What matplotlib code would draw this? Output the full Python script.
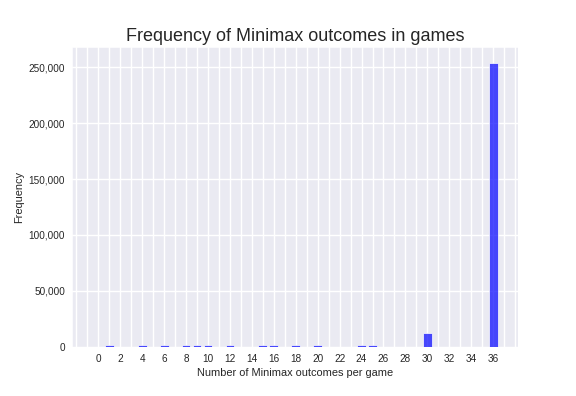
import matplotlib
matplotlib.use("Agg")
import matplotlib.pyplot as plt
import seaborn as sns
from matplotlib.ticker import FuncFormatter, MultipleLocator

# outcomes per game -> number of games
outcomes = [1, 4, 6, 8, 9, 10, 12, 15, 16, 18, 20, 24, 25, 30, 36]
counts = [1500, 1500, 1500, 1500, 1500, 1500, 1500, 1500, 1500, 1500, 1500, 1500, 1500, 12500, 253500]
xticks = list(range(0, 37, 2))

sns.set_style("darkgrid")
plt.rcParams['font.family'] = ['Liberation Sans', 'DejaVu Sans']

fig = plt.figure(figsize=(8, 5.5), dpi=72)
ax = fig.add_axes([0.125, 0.124, 0.775, 0.757])
ax.bar(outcomes, counts, width=0.8, color='blue', alpha=0.7)

ax.set_xticks(xticks)
ax.xaxis.set_minor_locator(MultipleLocator(1))
ax.grid(True, which='both', axis='x', color='white', linewidth=1.4)
ax.grid(True, which='major', axis='y', color='white', linewidth=1.4)
ax.set_xlim(-2.4, 38.3)
ax.set_ylim(0, 267900)
ax.yaxis.set_major_formatter(FuncFormatter(lambda v, p: f"{int(v):,}"))
ax.tick_params(labelsize=10, colors='.15', which='both', length=0, pad=7)

ax.set_title("Frequency of Minimax outcomes in games", fontsize=18)
ax.set_xlabel("Number of Minimax outcomes per game", fontsize=11)
ax.set_ylabel("Frequency", fontsize=11)

fig.savefig("out.png", dpi=72)
